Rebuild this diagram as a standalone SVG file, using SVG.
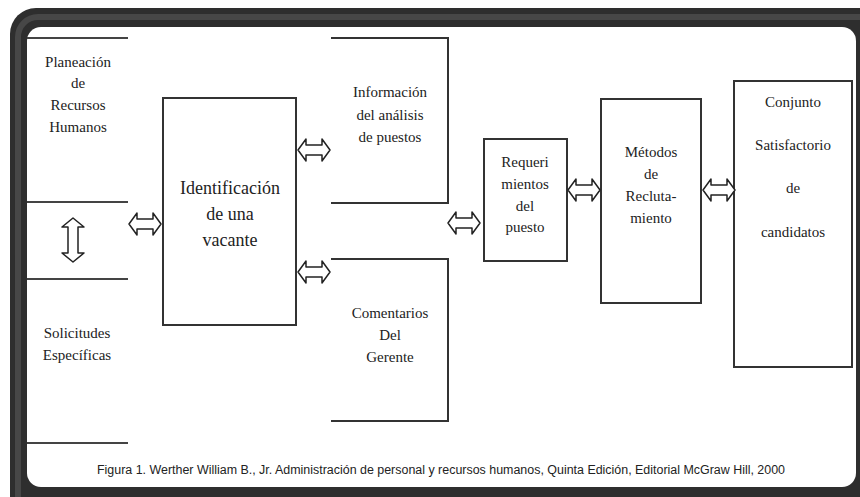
<svg xmlns="http://www.w3.org/2000/svg" width="860" height="497" viewBox="0 0 860 497">
<style>
.box{fill:none;stroke:#333;stroke-width:2}
.ln{stroke:#444;stroke-width:2;fill:none}
.t{font-family:"Liberation Serif","Times New Roman",serif;font-size:15px;fill:#222;text-anchor:middle}
.tb{font-family:"Liberation Serif","Times New Roman",serif;font-size:18px;fill:#222;text-anchor:middle}
.cap{font-family:"Liberation Sans",Arial,sans-serif;font-size:12px;fill:#222;text-anchor:middle}
.arr{fill:#fff;stroke:#222;stroke-width:1.5;stroke-linejoin:round}
</style>
<defs>
<path id="harr" d="M-16,0 L-8,-11 L-8,-5 L8,-5 L8,-11 L16,0 L8,11 L8,5 L-8,5 L-8,11 Z"/>
</defs>
<rect x="0" y="0" width="860" height="497" fill="#fff"/>
<g id="frame">
<rect x="10" y="8" width="880" height="520" rx="26" fill="#2e2e2e"/>
<rect x="18" y="17" width="870" height="500" rx="20" fill="none" stroke="#474747" stroke-width="6"/>
<rect x="27" y="27" width="829" height="460" rx="14" fill="#fff"/>
</g>
<g id="n-planeacion">
<line class="ln" x1="27" y1="38" x2="128" y2="38"/>
<line class="ln" x1="27" y1="202" x2="128" y2="202"/>
<text class="t" x="78" y="67">Planeación</text>
<text class="t" x="78" y="88">de</text>
<text class="t" x="78" y="110">Recursos</text>
<text class="t" x="78" y="132">Humanos</text>
</g>
<g id="n-solicitudes">
<line class="ln" x1="27" y1="279" x2="128" y2="279"/>
<line class="ln" x1="27" y1="443" x2="128" y2="443"/>
<text class="t" x="77" y="338">Solicitudes</text>
<text class="t" x="77" y="360">Específicas</text>
</g>
<g id="n-identificacion">
<rect class="box" x="163" y="98" width="133" height="227"/>
<text class="tb" x="230" y="194">Identificación</text>
<text class="tb" x="230" y="220">de una</text>
<text class="tb" x="230" y="246">vacante</text>
</g>
<g id="n-informacion">
<path class="box" d="M331,38 H448 V203 H331"/>
<text class="t" x="390" y="97">Información</text>
<text class="t" x="390" y="120">del análisis</text>
<text class="t" x="390" y="142">de puestos</text>
</g>
<g id="n-comentarios">
<path class="box" d="M331,259 H448 V421 H331"/>
<text class="t" x="390" y="318">Comentarios</text>
<text class="t" x="390" y="340">Del</text>
<text class="t" x="390" y="362">Gerente</text>
</g>
<g id="n-requerimientos">
<rect class="box" x="484" y="139" width="83" height="122"/>
<text class="t" x="525" y="167">Requeri</text>
<text class="t" x="525" y="189">mientos</text>
<text class="t" x="525" y="211">del</text>
<text class="t" x="525" y="232">puesto</text>
</g>
<g id="n-metodos">
<rect class="box" x="601" y="99" width="100" height="204"/>
<text class="t" x="651" y="157">Métodos</text>
<text class="t" x="651" y="179">de</text>
<text class="t" x="651" y="201">Recluta-</text>
<text class="t" x="651" y="223">miento</text>
</g>
<g id="n-conjunto">
<rect class="box" x="734" y="81" width="118" height="286"/>
<text class="t" x="793" y="107">Conjunto</text>
<text class="t" x="793" y="150">Satisfactorio</text>
<text class="t" x="793" y="193">de</text>
<text class="t" x="793" y="237">candidatos</text>
</g>
<g id="connectors">
<path class="arr" d="M73,218 L62,227 L68,227 L68,253 L62,253 L73,262 L84,253 L78,253 L78,227 L84,227 Z"/>
<use href="#harr" class="arr" transform="translate(145,224)"/>
<use href="#harr" class="arr" transform="translate(314,150)"/>
<use href="#harr" class="arr" transform="translate(314,272)"/>
<use href="#harr" class="arr" transform="translate(464,223)"/>
<use href="#harr" class="arr" transform="translate(584,190)"/>
<use href="#harr" class="arr" transform="translate(719,190)"/>
</g>
<text class="cap" x="441" y="474" textLength="688" lengthAdjust="spacingAndGlyphs">Figura 1. Werther William B., Jr. Administración de personal y recursos humanos, Quinta Edición, Editorial McGraw Hill, 2000</text>
</svg>
